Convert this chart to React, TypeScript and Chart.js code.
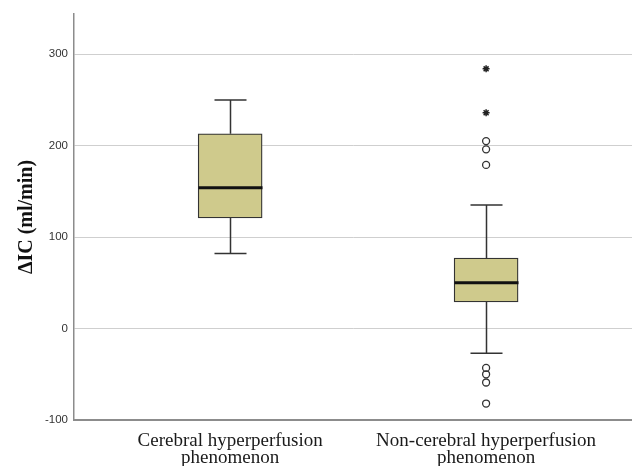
import React, { useEffect, useRef } from "react";
import { Chart, registerables } from "chart.js";

Chart.register(...registerables);

const categories: string[][] = [
  ["Cerebral hyperperfusion", "phenomenon"],
  ["Non-cerebral hyperperfusion", "phenomenon"],
];
const positions = [1, 2];
const whiskerLow = [82, -27];
const q1 = [121, 29];
const median = [154, 50];
const q3 = [213, 77];
const whiskerHigh = [250, 135];
// outliers (circles) and extremes (stars) for the second group
const outlierGroup = [2, 2, 2, 2, 2, 2, 2];
const outlierValues = [205, 196, 179, -43, -50, -59, -82];
const extremeGroup = [2, 2];
const extremeValues = [284, 236];
const yTicks = [-100, 0, 100, 200, 300];

const boxPlugin = {
  id: "boxWhiskers",
  afterDatasetsDraw(chart: any) {
    const { ctx, scales } = chart;
    const xs = scales.x;
    const ys = scales.y;
    ctx.save();
    positions.forEach((p, i) => {
      const cx = Math.round(xs.getPixelForValue(p)) + 0.5;
      const capHalf = 16;
      const boxHalf = 32;
      ctx.strokeStyle = "#333333";
      ctx.lineWidth = 1.5;
      const yq3 = ys.getPixelForValue(q3[i]);
      const yHi = ys.getPixelForValue(whiskerHigh[i]);
      const yq1 = ys.getPixelForValue(q1[i]);
      const yLo = ys.getPixelForValue(whiskerLow[i]);
      ctx.beginPath();
      ctx.moveTo(cx, yq3);
      ctx.lineTo(cx, yHi);
      ctx.moveTo(cx - capHalf, yHi);
      ctx.lineTo(cx + capHalf, yHi);
      ctx.moveTo(cx, yq1);
      ctx.lineTo(cx, yLo);
      ctx.moveTo(cx - capHalf, yLo);
      ctx.lineTo(cx + capHalf, yLo);
      ctx.stroke();
      const yMed = ys.getPixelForValue(median[i]);
      ctx.strokeStyle = "#111111";
      ctx.lineWidth = 3;
      ctx.beginPath();
      ctx.moveTo(cx - boxHalf, yMed);
      ctx.lineTo(cx + boxHalf, yMed);
      ctx.stroke();
    });
    ctx.restore();
  },
};

export default function App() {
  const ref = useRef<HTMLCanvasElement>(null);
  useEffect(() => {
    document.body.style.margin = "0";
    const chart = new Chart(ref.current as HTMLCanvasElement, {
      type: "bar",
      data: {
        datasets: [
          {
            type: "bar",
            data: positions.map((p, i) => ({ x: p, y: [q1[i], q3[i]] })) as any,
            backgroundColor: "#cfca8c",
            borderColor: "#333333",
            borderWidth: 1.3,
            borderSkipped: false,
            barThickness: 64,
            order: 2,
          } as any,
          {
            type: "scatter",
            data: outlierValues.map((v, i) => ({ x: outlierGroup[i], y: v })),
            pointStyle: "circle",
            pointRadius: 3.5,
            pointBackgroundColor: "rgba(255,255,255,0)",
            pointBorderColor: "#333333",
            pointBorderWidth: 1.3,
            order: 1,
          } as any,
          {
            type: "scatter",
            data: extremeValues.map((v, i) => ({ x: extremeGroup[i], y: v })),
            pointStyle: "star",
            pointRadius: 3.5,
            pointBorderColor: "#222222",
            pointBorderWidth: 1.5,
            order: 1,
          } as any,
        ],
      },
      options: {
        responsive: false,
        animation: false,
        layout: { autoPadding: false, padding: { top: 14, right: 0, left: 0, bottom: 0 } },
        plugins: {
          legend: { display: false },
          tooltip: { enabled: false },
        },
        scales: {
          x: {
            type: "linear",
            min: 0.39,
            max: 2.57,
            offset: false,
            afterBuildTicks: (scale: any) => {
              scale.ticks = positions.map((p) => ({ value: p }));
            },
            afterFit: (scale: any) => {
              scale.height = 46;
              scale.paddingLeft = 0;
              scale.paddingRight = 0;
            },
            ticks: {
              autoSkip: false,
              maxRotation: 0,
              padding: 12,
              color: "#1a1a1a",
              font: { family: "'Liberation Serif', serif", size: 19, lineHeight: 0.9 },
              callback: (v: any) => {
                const idx = positions.indexOf(Number(v));
                return idx >= 0 ? categories[idx] : "";
              },
            },
            grid: { display: false, drawTicks: false },
            border: { display: true, color: "#8c8c8c", width: 2 },
          },
          y: {
            type: "linear",
            min: -100,
            max: 344,
            afterBuildTicks: (scale: any) => {
              scale.ticks = yTicks.map((v) => ({ value: v }));
            },
            afterFit: (scale: any) => {
              scale.width = 74;
            },
            ticks: {
              padding: 6,
              color: "#333333",
              font: { family: "'Liberation Sans', Arial, sans-serif", size: 11.5 },
            },
            grid: { color: "#cfcfcf", lineWidth: 1, drawTicks: false },
            border: { display: true, color: "#8c8c8c", width: 1.5 },
            title: {
              display: true,
              text: "ΔIC (ml/min)",
              color: "#111111",
              font: { family: "'Liberation Serif', serif", size: 20, weight: "bold" },
              padding: { top: 15, bottom: 0 },
            },
          },
        },
      } as any,
      plugins: [boxPlugin],
    });
    return () => chart.destroy();
  }, []);
  return (
    <div style={{ position: "absolute", left: 0, top: 0, width: 632, height: 466, background: "#ffffff" }}>
      <canvas ref={ref} width={632} height={466} />
    </div>
  );
}
